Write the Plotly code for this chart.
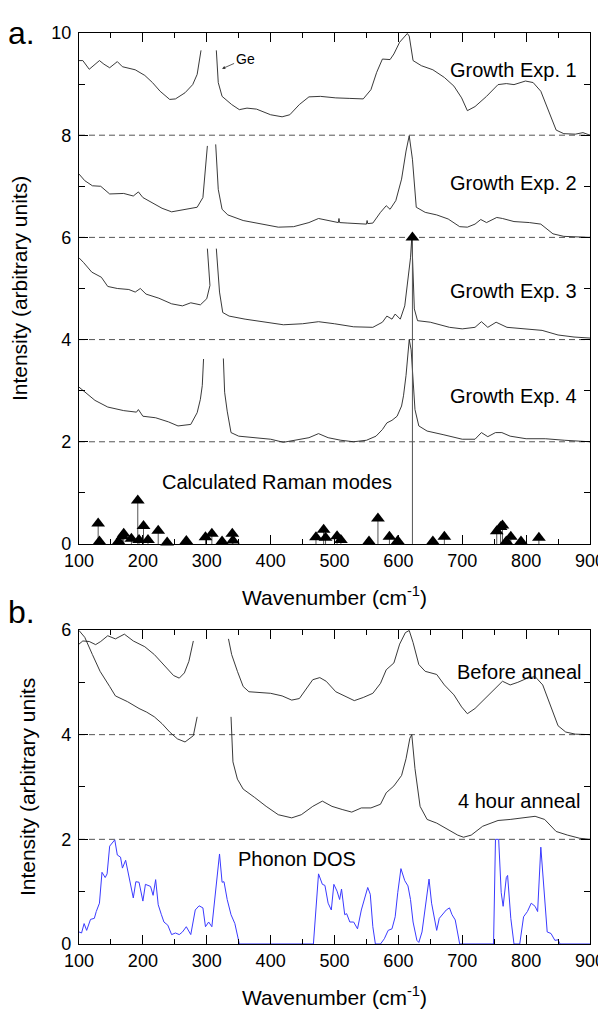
import plotly.graph_objects as go

# ---- panel a: Raman spectra (offset by 2 each) ----
EXP1_X = [100, 106, 116, 132, 139, 148, 160, 168, 188, 203, 215, 227, 242, 251, 266, 278, 285, 291, None,
          315, 318, 324, 339, 351, 363, 378, 400, 418, 430, 445, 460, 478, 502, 524, 545, 557, 566, 575, 587,
          593, 602, 614, 617, 623, 636, 654, 672, 687, 699, 708, 720, 738, 756, 769, 781, 799, 811, 823, 835,
          847, 859, 877, 889, 900]
EXP1_Y = [9.46, 9.46, 9.29, 9.46, 9.39, 9.32, 9.44, 9.34, 9.28, 9.17, 9.03, 8.86, 8.70, 8.71, 8.83, 8.99, 9.19, 9.66, None,
          9.66, 9.03, 8.76, 8.60, 8.50, 8.53, 8.51, 8.40, 8.36, 8.40, 8.60, 8.75, 8.76, 8.73, 8.72, 8.71, 8.89, 9.23, 9.49, 9.48,
          9.59, 9.82, 9.99, 9.94, 9.46, 9.36, 9.28, 9.13, 8.96, 8.73, 8.48, 8.56, 8.76, 8.99, 9.01, 8.99, 9.06, 9.03, 8.86, 8.46,
          8.10, 8.03, 8.02, 8.05, 8.0]

EXP2_X = [100, 109, 121, 134, 148, 170, 185, 193, 200, 215, 230, 245, 266, 285, 294, 298, 301, None,
          314, 318, 324, 333, 357, 387, 412, 436, 460, 475, 491, 506, 507, 508, 521, 550, 551, 552, 560, 572, 581,
          587, 596, 605, 612, 617, 622, 628, 642, 660, 678, 696, 708, 720, 729, 738, 754, 763, 781, 805, 823,
          842, 859, 900]
EXP2_Y = [7.24, 7.11, 7.01, 7.0, 6.85, 6.86, 6.81, 6.89, 6.78, 6.68, 6.57, 6.50, 6.55, 6.59, 6.78, 7.34, 7.79, None,
          7.82, 6.94, 6.55, 6.44, 6.33, 6.26, 6.20, 6.21, 6.29, 6.37, 6.33, 6.29, 6.37, 6.29, 6.28, 6.26, 6.33, 6.27, 6.28, 6.49, 6.62,
          6.55, 6.72, 7.14, 7.69, 7.99, 7.53, 6.59, 6.49, 6.44, 6.36, 6.21, 6.20, 6.26, 6.35, 6.29, 6.39, 6.37, 6.31, 6.29, 6.26,
          6.07, 6.02, 6.0]

EXP3_X = [100, 107, 120, 135, 145, 160, 178, 188, 196, 205, 225, 245, 262, 275, 290, 300, 305, 301, None,
          315, 320, 325, 335, 360, 390, 420, 450, 475, 500, 530, 560, 575, 582, 590, 595, 603, 610, 615, 619,
          621, 625, 630, 650, 680, 700, 720, 730, 740, 753, 770, 800, 825, 850, 875, 900]
EXP3_Y = [5.60, 5.51, 5.32, 5.22, 5.04, 5.0, 4.98, 4.93, 5.0, 4.89, 4.81, 4.70, 4.66, 4.72, 4.68, 4.80, 5.06, 5.78, None,
          5.78, 4.93, 4.53, 4.46, 4.40, 4.34, 4.29, 4.31, 4.35, 4.31, 4.25, 4.24, 4.34, 4.46, 4.40, 4.50, 4.40, 4.66, 5.19, 5.60,
          6.0, 4.60, 4.37, 4.34, 4.24, 4.21, 4.24, 4.35, 4.24, 4.34, 4.24, 4.21, 4.18, 4.09, 4.05, 4.03]

EXP4_X = [100, 110, 125, 145, 170, 190, 193, 200, 220, 240, 255, 275, 285, 290, 293, 295, None,
          326, 328, 332, 338, 350, 375, 400, 420, 440, 460, 475, 490, 510, 530, 550, 565, 575, 582, 590, 598,
          605, 608, 612, 615, 617, 620, 623, 626, 632, 645, 670, 700, 720, 730, 740, 752, 762, 775, 800, 830,
          860, 900]
EXP4_Y = [3.07, 2.97, 2.81, 2.68, 2.61, 2.58, 2.63, 2.50, 2.47, 2.39, 2.31, 2.34, 2.57, 2.83, 3.10, 3.62, None,
          3.63, 2.97, 2.60, 2.18, 2.11, 2.08, 2.05, 1.99, 2.03, 2.08, 2.16, 2.08, 2.03, 2.0, 2.03, 2.11, 2.24, 2.37, 2.42, 2.50,
          2.70, 2.90, 3.30, 3.80, 4.0, 3.80, 3.30, 2.63, 2.31, 2.21, 2.14, 2.05, 2.05, 2.18, 2.10, 2.18, 2.18, 2.11, 2.06, 2.06,
          2.03, 2.0]

# calculated Raman modes (position, height)
MODE_X = [130, 132, 162, 168, 170, 182, 192, 194, 201, 208, 224, 238, 268, 298, 308, 324, 340, 341,
          471, 483, 486, 504, 510, 554, 568, 586, 599, 622, 654, 672, 754, 760, 763, 769, 776, 792, 820]
MODE_Y = [0.40, 0.05, 0.05, 0.15, 0.20, 0.10, 0.85, 0.08, 0.35, 0.08, 0.26, 0.03, 0.06, 0.13, 0.20, 0.05, 0.20, 0.07,
          0.13, 0.28, 0.12, 0.15, 0.08, 0.05, 0.50, 0.14, 0.06, 6.0, 0.05, 0.14, 0.25, 0.33, 0.36, 0.05, 0.14, 0.05, 0.12]

# ---- panel b ----
BEFORE_X = [100, 106, 116, 126, 134, 145, 157, 171, 185, 203, 218, 233, 248, 257, 265, 272, 279, None,
            334, 339, 348, 357, 366, 381, 400, 418, 433, 445, 454, 466, 477, 487, 502, 518, 531, 545, 560, 572,
            581, 593, 602, 611, 617, 623, 632, 642, 660, 672, 687, 699, 708, 720, 738, 756, 763, 775, 787, 802,
            814, 826, 838, 850, 862, 877, 900]
BEFORE_Y = [5.73, 5.79, 5.78, 5.72, 5.78, 5.89, 5.83, 5.92, 5.79, 5.68, 5.53, 5.34, 5.13, 5.08, 5.18, 5.40, 5.79, None,
            5.83, 5.53, 5.21, 4.92, 4.82, 4.81, 4.79, 4.74, 4.66, 4.69, 4.85, 5.05, 5.09, 5.02, 4.82, 4.72, 4.65, 4.71, 4.79, 4.98,
            5.24, 5.37, 5.73, 5.95, 5.99, 5.76, 5.34, 5.21, 5.15, 4.95, 4.76, 4.53, 4.40, 4.50, 4.72, 4.95, 5.02, 4.95, 5.0, 5.08,
            5.11, 4.95, 4.56, 4.17, 4.05, 4.01, 4.0]

ANNEAL_X = [100, 109, 121, 133, 148, 157, 176, 194, 206, 218, 230, 242, 254, 266, 279, 285, None,
            338, 339, 341, 348, 357, 375, 393, 412, 433, 448, 466, 481, 496, 512, 527, 542, 557, 572, 581, 593,
            605, 612, 618, 621, 626, 634, 645, 660, 678, 693, 702, 714, 732, 756, 775, 799, 814, 829, 847, 865,
            884, 900]
ANNEAL_Y = [5.99, 5.86, 5.53, 5.21, 4.92, 4.74, 4.63, 4.50, 4.43, 4.34, 4.21, 4.05, 3.92, 3.86, 3.98, 4.34, None,
            4.34, 3.93, 3.48, 3.15, 2.96, 2.80, 2.63, 2.47, 2.41, 2.47, 2.63, 2.73, 2.63, 2.57, 2.52, 2.60, 2.60, 2.67, 2.89, 3.02,
            3.22, 3.54, 3.93, 4.0, 3.35, 2.63, 2.38, 2.31, 2.19, 2.08, 2.04, 2.08, 2.25, 2.36, 2.38, 2.41, 2.44, 2.38, 2.15, 2.08,
            2.02, 2.0]

DOS_X = [100, 104, 108, 112, 118, 124, 127, 132, 136, 141, 144, 148, 156, 160, 165, 168, 173, 179, 185, 189,
         194, 200, 204, 212, 216, 220, 224, 229, 233, 239, 245, 251, 257, 262, 268, 275, 282, 288, 294, 298,
         303, 308, 314, 320, 324, 327, 332, 338, 344, 351, 400, 467, 475, 481, 485, 490, 495, 499, 504, 508,
         511, 516, 519, 524, 530, 536, 542, 548, 552, 556, 560, 564, 572, 578, 584, 590, 595, 599, 604, 610,
         615, 619, 623, 629, 632, 637, 641, 648, 652, 660, 664, 670, 675, 680, 684, 689, 696, 720, 749, 752,
         757, 761, 764, 769, 771, 776, 781, 790, 796, 802, 808, 814, 818, 823, 827, 833, 839, 845, 850, 853, 900]
DOS_Y = [0.23, 0.21, 0.39, 0.26, 0.47, 0.49, 0.62, 0.78, 1.37, 1.27, 1.34, 1.87, 1.99, 1.70, 1.66, 1.45, 1.60, 1.24, 0.88, 1.19,
         1.18, 0.82, 1.14, 1.10, 0.93, 1.23, 0.75, 0.56, 0.42, 0.36, 0.18, 0.21, 0.18, 0.23, 0.33, 0.18, 0.65, 0.73, 0.69, 0.33,
         0.42, 0.33, 1.01, 1.72, 1.18, 1.19, 0.85, 0.56, 0.39, 0.0, 0.0, 0.0, 1.34, 1.14, 1.12, 0.78, 0.65, 1.14, 1.01, 0.85,
         1.05, 0.56, 0.58, 0.42, 0.42, 0.29, 0.65, 0.92, 1.08, 0.95, 0.33, 0.0, 0.0, 0.10, 0.26, 0.29, 0.52, 0.98, 1.44, 1.21,
         1.11, 0.85, 0.42, 0.07, 0.03, 0.23, 0.59, 1.24, 0.78, 0.26, 0.49, 0.59, 0.65, 0.69, 0.56, 0.46, 0.0, 0.0, 0.0, 2.0,
         2.0, 0.98, 0.72, 1.27, 1.31, 0.49, 0.0, 0.0, 0.52, 0.62, 0.78, 0.72, 0.62, 1.85, 1.24, 0.23, 0.20, 0.07, 0.08, 0.0, 0.0]

OFFSETS_A = [8, 6, 4, 2]
OFFSETS_B = [4, 2]

FONT = "Arial, Liberation Sans, sans-serif"
LINE = {"color": "#222222", "width": 0.9}

fig = go.Figure()

for xs, ys in [(EXP1_X, EXP1_Y), (EXP2_X, EXP2_Y), (EXP3_X, EXP3_Y), (EXP4_X, EXP4_Y)]:
    fig.add_trace(go.Scatter(x=xs, y=ys, mode="lines", line=LINE, showlegend=False, xaxis="x", yaxis="y"))

# stems of calculated modes
stem_x, stem_y = [], []
for mx, my in zip(MODE_X, MODE_Y):
    stem_x += [mx, mx, None]
    stem_y += [0, my, None]
fig.add_trace(go.Scatter(x=stem_x, y=stem_y, mode="lines", line={"color": "#555555", "width": 1},
                         showlegend=False, xaxis="x", yaxis="y"))
fig.add_trace(go.Scatter(x=MODE_X, y=MODE_Y, mode="markers", cliponaxis=False,
                         marker={"symbol": "triangle-up", "size": 12, "color": "black"},
                         showlegend=False, xaxis="x", yaxis="y"))

for xs, ys in [(BEFORE_X, BEFORE_Y), (ANNEAL_X, ANNEAL_Y)]:
    fig.add_trace(go.Scatter(x=xs, y=ys, mode="lines", line=LINE, showlegend=False, xaxis="x2", yaxis="y2"))
fig.add_trace(go.Scatter(x=DOS_X, y=DOS_Y, mode="lines", line={"color": "#3a3aff", "width": 1},
                         showlegend=False, xaxis="x2", yaxis="y2"))

# dashed offsets
for off in OFFSETS_A:
    fig.add_shape(type="line", xref="x", yref="y", x0=100, x1=900, y0=off, y1=off,
                  line={"color": "#555555", "width": 1, "dash": "6px,4px"}, layer="below")
for off in OFFSETS_B:
    fig.add_shape(type="line", xref="x2", yref="y2", x0=100, x1=900, y0=off, y1=off,
                  line={"color": "#555555", "width": 1, "dash": "6px,4px"}, layer="below")

axis_common = dict(
    showgrid=False, zeroline=False, showline=True, linecolor="black", linewidth=1.4, mirror="ticks",
    ticks="inside", ticklen=9, tickwidth=1.3, tickcolor="black", automargin=False,
    tickfont={"family": FONT, "size": 18, "color": "black"},
)
x_common = dict(axis_common, range=[100, 900], dtick=100, tick0=100,
                minor={"ticks": "inside", "ticklen": 5, "dtick": 50, "tickcolor": "black", "tickwidth": 1.3})
y_common = dict(axis_common, ticklabelstandoff=3,
                minor={"ticks": "inside", "ticklen": 6, "dtick": 1, "tickcolor": "black", "tickwidth": 1.3})
title_font = {"family": FONT, "size": 21, "color": "black"}

# the page body adds an 8px offset, so the figure is drawn slightly smaller than the window
fig.update_layout(
    width=598, height=1006,
    margin={"l": 71, "r": 16, "t": 25, "b": 70},
    plot_bgcolor="white", paper_bgcolor="white",
    xaxis=dict(x_common, domain=[0, 1], anchor="y",
               title={"text": "Wavenumber (cm<sup>-1</sup>)", "font": title_font, "standoff": 20}),
    yaxis=dict(y_common, domain=[0.4391, 1], anchor="x", range=[0, 10], dtick=2,
               title={"text": "Intensity (arbitrary units)", "font": title_font, "standoff": 17}),
    xaxis2=dict(x_common, domain=[0, 1], anchor="y2",
                title={"text": "Wavenumber (cm<sup>-1</sup>)", "font": title_font, "standoff": 20}),
    yaxis2=dict(y_common, domain=[0, 0.3447], anchor="x2", range=[0, 6], dtick=2,
                title={"text": "Intensity (arbitrary units", "font": title_font, "standoff": 19}),
)

label_font = {"family": FONT, "size": 20, "color": "black"}
for text, x, y, ref in [
    ("Growth Exp. 1", 882, 9.28, "y"), ("Growth Exp. 2", 882, 7.07, "y"),
    ("Growth Exp. 3", 882, 4.95, "y"), ("Growth Exp. 4", 882, 2.9, "y"),
    ("Before anneal", 890, 5.2, "y2"), ("4 hour anneal", 887, 2.73, "y2"),
]:
    fig.add_annotation(text=text, x=x, y=y, xref=ref.replace("y", "x"), yref=ref, xanchor="right",
                       showarrow=False, font=label_font)
fig.add_annotation(text="Calculated Raman modes", x=410, y=1.22, xref="x", yref="y",
                   showarrow=False, font=label_font)
fig.add_annotation(text="Phonon DOS", x=441, y=1.62, xref="x2", yref="y2",
                   showarrow=False, font=label_font)
fig.add_annotation(text="Ge", x=324, y=9.30, ax=360, ay=9.5, xref="x", yref="y", axref="x", ayref="y",
                   showarrow=True, arrowhead=2, arrowsize=0.8, arrowwidth=0.8, arrowcolor="#333",
                   standoff=0, font={"family": FONT, "size": 14, "color": "black"})
for text, y in [("a.", 1.0), ("b.", 0.364)]:
    fig.add_annotation(text=text, x=-0.14, y=y, xref="paper", yref="paper", xanchor="left", yanchor="middle",
                       showarrow=False, borderpad=0, font={"family": FONT, "size": 32, "color": "black"})

fig.write_html("out.html")
